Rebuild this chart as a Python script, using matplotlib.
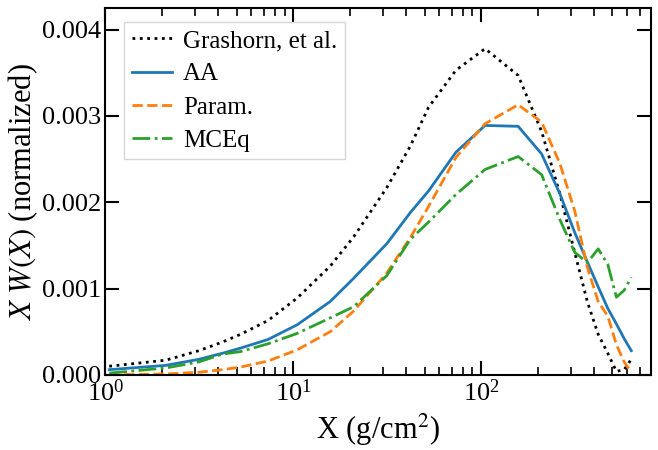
import numpy as np
import matplotlib
matplotlib.use("Agg")
import matplotlib.pyplot as plt

plt.rcParams['font.family'] = ['Liberation Serif', 'DejaVu Serif']
plt.rcParams['mathtext.fontset'] = 'stix'

# slant depth grid (g/cm^2)
depth = [1.05, 2.1, 3.15, 4.2, 5.25, 7.35, 10.5, 15.75, 21, 31.5, 42, 52.5, 73.5,
         105, 157.5, 210, 262.5, 315, 367.5, 420, 472.5, 525, 577.5, 630]

grashorn = [0.0001, 0.00017, 0.00028, 0.00038, 0.00047, 0.00063, 0.00089, 0.00126,
            0.0016, 0.00217, 0.00265, 0.0031, 0.00353, 0.00378, 0.00347, 0.00282,
            0.0021, 0.00142, 0.00085, 0.00047, 0.00025, 0.00004, 0.00006, 0.00018]
aa = [0.00006, 0.00011, 0.00018, 0.00025, 0.00031, 0.00041, 0.00058, 0.00085,
      0.00112, 0.00152, 0.00188, 0.00213, 0.00258, 0.00289, 0.00288, 0.00256,
      0.0021, 0.00165, 0.00131, 0.00102, 0.00077, 0.00059, 0.00042, 0.00028]
param = [0.0, 0.00001, 0.00003, 0.00006, 0.00009, 0.00016, 0.00029, 0.0005,
         0.00074, 0.00118, 0.00159, 0.00195, 0.00252, 0.00291, 0.00313, 0.00293,
         0.00245, 0.0019, 0.00125, 0.00085, 0.00068, 0.00035, 0.00015, 0.00003]
mceq = [0.00002, 0.00008, 0.00015, 0.00024, 0.00027, 0.00036, 0.00048, 0.00066,
        0.00079, 0.00115, 0.00157, 0.00177, 0.00209, 0.00238, 0.00253, 0.00232,
        0.0018, 0.00142, 0.0013, 0.00146, 0.00128, 0.0009, 0.00098, 0.00113]

fig = plt.figure(figsize=(6.58, 4.5), dpi=100)
ax = fig.add_axes([0.16, 0.167, 0.829, 0.815])

ax.plot(depth, grashorn, color='black', ls=':', lw=2, label='Grashorn, et al.')
ax.plot(depth, aa, color='tab:blue', ls='-', lw=2, label='AA')
ax.plot(depth, param, color='tab:orange', ls='--', lw=2, label='Param.')
ax.plot(depth, mceq, color='tab:green', ls='-.', lw=2, label='MCEq')

ax.set_xscale('log')
ax.set_xlim(1, 800)
ax.set_ylim(0, 0.00425)
ax.set_yticks([0, 0.001, 0.002, 0.003, 0.004])
ax.set_yticklabels(['0.000', '0.001', '0.002', '0.003', '0.004'])

ax.tick_params(which='both', direction='in', top=True, right=True, labelsize=19)
ax.tick_params(which='major', length=10, width=1.5)
ax.tick_params(which='minor', length=6, width=1.2)
ax.tick_params(axis='y', pad=3)
for s in ax.spines.values():
    s.set_linewidth(1.5)

ax.set_xlabel('X (g/cm$^2$)', fontsize=22, labelpad=4)
ax.set_ylabel('$X\\ W(X)$ (normalized)', fontsize=22, labelpad=1)

leg = ax.legend(loc='upper left', fontsize=18, fancybox=False, handlelength=1.6,
                handletextpad=0.45, labelspacing=0.43, borderpad=0.3,
                borderaxespad=0, bbox_to_anchor=(0.035, 0.962))
leg.get_frame().set_edgecolor('#cccccc')

fig.savefig('out.png', dpi=100)
